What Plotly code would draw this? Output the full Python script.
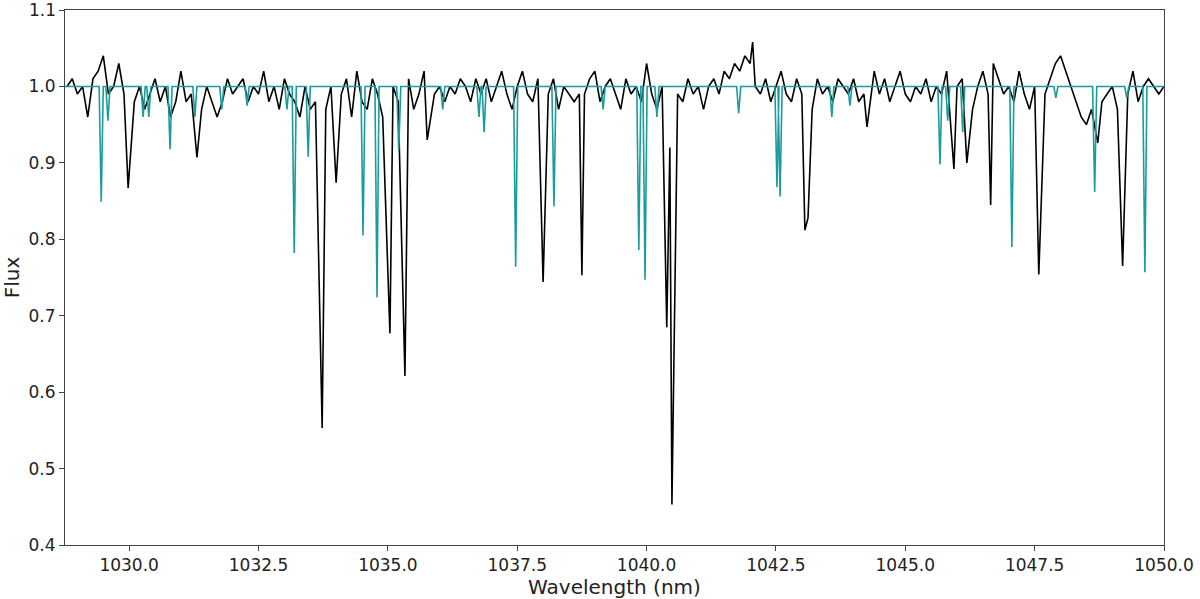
import numpy as np
import plotly.graph_objects as go

# observed spectrum: noisy continuum sampled every 0.1 nm from 1028.8 nm
obs_start = 1028.8
obs_noise = [
    1.00, 1.01, 0.99, 1.00, 0.96, 1.01, 1.02, 1.04, 0.99, 1.00,
    1.03, 0.99, 0.98, 0.98, 1.00, 0.97, 0.99, 1.01, 0.98, 1.00,
    0.96, 0.98, 1.02, 0.98, 0.99, 0.99, 0.97, 1.00, 0.98, 0.96,
    0.98, 1.01, 0.99, 1.00, 1.01, 0.98, 1.00, 0.99, 1.02, 0.98,
    1.00, 0.97, 1.01, 0.99, 0.98, 0.96, 1.00, 0.97, 0.98, 0.99,
    0.97, 1.00, 0.98, 0.99, 1.01, 0.96, 1.02, 0.98, 0.97, 1.01,
    0.99, 0.96, 0.98, 1.00, 0.98, 0.99, 1.01, 0.97, 0.99, 1.02,
    0.97, 0.99, 1.00, 0.98, 1.00, 0.99, 1.01, 1.00, 0.98, 1.01,
    0.99, 1.01, 0.98, 1.00, 1.02, 0.99, 0.97, 1.00, 1.02, 0.99,
    0.98, 1.01, 0.98, 0.99, 1.01, 0.97, 1.00, 0.99, 0.98, 0.99,
    0.99, 1.01, 1.02, 0.98, 1.00, 1.01, 0.99, 0.97, 1.01, 0.99,
    1.00, 0.98, 1.03, 0.99, 0.97, 1.00, 0.98, 0.97, 0.99, 0.98,
    1.01, 0.99, 1.00, 0.97, 1.00, 1.01, 0.99, 1.02, 1.01, 1.03,
    1.02, 1.04, 1.03, 1.00, 0.99, 1.01, 0.98, 1.00, 1.02, 0.99,
    0.98, 1.01, 0.99, 0.98, 0.97, 1.01, 0.99, 1.00, 0.98, 1.01,
    1.00, 0.99, 1.01, 0.98, 0.99, 1.00, 1.02, 0.99, 1.01, 0.98,
    1.00, 1.02, 0.99, 0.98, 1.00, 0.99, 1.01, 0.98, 1.00, 0.99,
    1.02, 0.98, 1.00, 1.01, 0.99, 0.97, 1.00, 1.02, 0.99, 1.03,
    1.01, 0.99, 1.00, 0.98, 1.02, 0.99, 0.97, 1.00, 0.98, 0.99,
    1.01, 1.03, 1.04, 1.02, 1.00, 0.98, 0.96, 0.95, 0.97, 0.95,
    0.98, 0.99, 1.00, 0.97, 0.98, 0.99, 1.02, 0.98, 1.00, 1.01,
    1.00, 0.99, 1.00,
]
# observed absorption lines / features
obs_line_wl = [1029.98, 1031.31, 1033.73, 1034.00, 1035.04, 1035.33, 1035.76,
               1038.00, 1038.75, 1040.39, 1040.45, 1040.49, 1042.05, 1043.06,
               1043.12, 1044.26, 1045.94, 1046.19, 1046.65, 1047.58, 1048.72,
               1049.20]
obs_line_flux = [0.867, 0.907, 0.553, 0.874, 0.677, 0.621, 0.930,
                 0.744, 0.753, 0.685, 0.920, 0.453, 1.058, 0.812,
                 0.828, 0.947, 0.892, 0.900, 0.845, 0.754, 0.926,
                 0.765]

# model spectrum: flat continuum with absorption lines
model_line_wl = [1029.46, 1029.59, 1030.27, 1030.38, 1030.79, 1031.27, 1031.79,
                 1032.28, 1033.05, 1033.19, 1033.46, 1034.52, 1034.79, 1035.21,
                 1036.06, 1036.76, 1036.86, 1037.47, 1038.21, 1039.16, 1039.85,
                 1039.97, 1040.20, 1041.78, 1042.52, 1042.58, 1043.58, 1043.93,
                 1045.67, 1045.82, 1046.11, 1047.06, 1047.91, 1048.66, 1049.28,
                 1049.63]
model_line_flux = [0.849, 0.955, 0.960, 0.960, 0.918, 0.960, 0.970,
                   0.975, 0.970, 0.782, 0.908, 0.805, 0.724, 0.917,
                   0.970, 0.960, 0.940, 0.764, 0.843, 0.970, 0.786,
                   0.747, 0.960, 0.965, 0.868, 0.856, 0.960, 0.975,
                   0.898, 0.955, 0.940, 0.790, 0.985, 0.862, 0.985,
                   0.757]
model_continuum = 1.0
y_max = 1.1

# build observed trace: grid points merged with line points
grid_wl = np.round(obs_start + 0.1 * np.arange(len(obs_noise)), 2)
keep = [i for i, w in enumerate(grid_wl)
        if min(abs(w - lw) for lw in obs_line_wl) > 0.04]
obs_wl = np.concatenate([grid_wl[keep], obs_line_wl])
obs_flux = np.concatenate([np.array(obs_noise)[keep], obs_line_flux])
order = np.argsort(obs_wl)
obs_wl, obs_flux = obs_wl[order], obs_flux[order]

# build model trace: continuum shoulders around each line
half_width = 0.04
mod_wl = [1028.7]
mod_flux = [model_continuum]
for w, f in zip(model_line_wl, model_line_flux):
    mod_wl += [w - half_width, w, w + half_width]
    mod_flux += [model_continuum, f, model_continuum]
mod_wl.append(1050.1)
mod_flux.append(model_continuum)

fig = go.Figure()
fig.add_trace(go.Scatter(x=obs_wl, y=obs_flux, mode="lines",
                         line={"color": "black", "width": 1.6}))
fig.add_trace(go.Scatter(x=mod_wl, y=mod_flux, mode="lines",
                         line={"color": "#1a9c9c", "width": 1.6}))

axis_style = dict(showline=True, linecolor="#444", linewidth=1, mirror=True,
                  ticks="outside", tickcolor="#444", ticklen=5,
                  showgrid=False, zeroline=False, automargin=False,
                  tickfont={"size": 17, "color": "#222"})
fig.update_layout(
    width=1200, height=599,
    paper_bgcolor="white", plot_bgcolor="white",
    font={"family": "DejaVu Sans", "color": "#222"},
    showlegend=False,
    margin={"l": 65, "r": 36, "t": 10, "b": 54},
    xaxis=dict(axis_style, range=[1028.76, 1050], dtick=2.5, tick0=1030,
               tickformat=".1f",
               title={"text": "Wavelength (nm)", "font": {"size": 20}, "standoff": 2}),
    yaxis=dict(axis_style, range=[0.4, y_max], dtick=0.1, tickformat=".1f",
               title={"text": "Flux", "font": {"size": 20}, "standoff": 4}),
)
# top tick label gets clipped by the tight top margin, so draw it as text
fig.add_annotation(x=0, xref="paper", xanchor="right", xshift=-7,
                   y=y_max, yref="y", yanchor="middle",
                   text=f"{y_max:.1f}", showarrow=False,
                   font={"size": 17, "color": "#222"})
fig.write_html("out.html", config={"displayModeBar": False},
               post_script="document.body.style.margin='0';")
